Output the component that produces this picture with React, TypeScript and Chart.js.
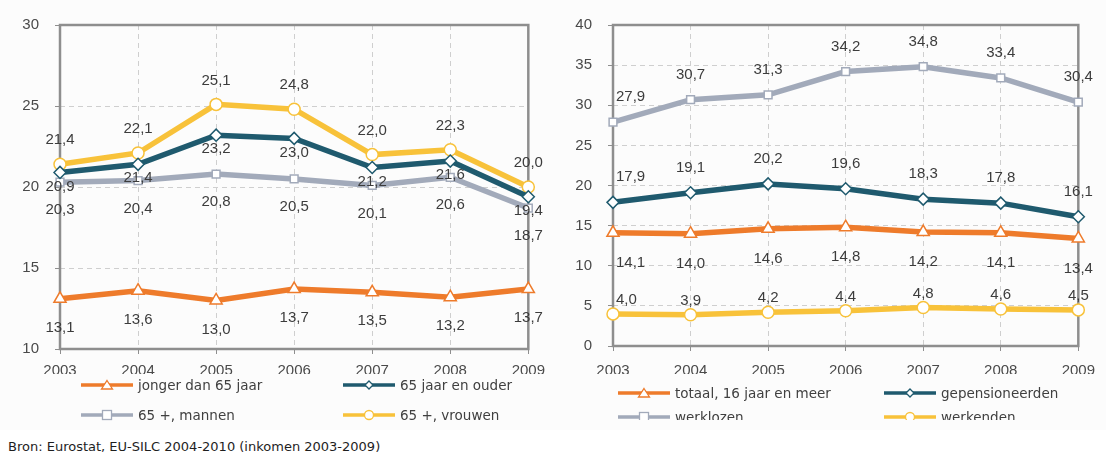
import { useEffect, useRef } from 'react';
import { Chart, registerables } from 'chart.js';

Chart.register(...registerables);

const years = ['2003', '2004', '2005', '2006', '2007', '2008', '2009'];

// links: naar leeftijd en geslacht
const jongerDan65 = [13.1, 13.6, 13.0, 13.7, 13.5, 13.2, 13.7];
const ouderDan65 = [20.9, 21.4, 23.2, 23.0, 21.2, 21.6, 19.4];
const mannen65 = [20.3, 20.4, 20.8, 20.5, 20.1, 20.6, 18.7];
const vrouwen65 = [21.4, 22.1, 25.1, 24.8, 22.0, 22.3, 20.0];
const leftTicks = [10, 15, 20, 25, 30];

// rechts: naar activiteitsstatus
const totaal16 = [14.1, 14.0, 14.6, 14.8, 14.2, 14.1, 13.4];
const gepensioneerden = [17.9, 19.1, 20.2, 19.6, 18.3, 17.8, 16.1];
const werklozen = [27.9, 30.7, 31.3, 34.2, 34.8, 33.4, 30.4];
const werkenden = [4.0, 3.9, 4.2, 4.4, 4.8, 4.6, 4.5];
const rightTicks = [0, 5, 10, 15, 20, 25, 30, 35, 40];

const ORANGE = '#EE7B2B';
const TEAL = '#1F5A6E';
const GREY = '#A2AABA';
const YELLOW = '#F8C23A';
const FRAME = '#8E8E8E';
const SANS = 'Liberation Sans, Arimo, Arial, sans-serif';

type Shape = 'triangle' | 'rectRot' | 'rect' | 'circle';

interface Series {
  label: string;
  data: number[];
  color: string;
  shape: Shape;
  offset: number; // label offset in px (negative = above)
}

const fmt = (v: number) => v.toFixed(1).replace('.', ',');

const frameAndLabels = {
  id: 'frameAndLabels',
  beforeDatasetsDraw(chart: any) {
    const { ctx, chartArea: a } = chart;
    ctx.save();
    ctx.strokeStyle = FRAME;
    ctx.lineWidth = 2.5;
    ctx.strokeRect(a.left, a.top, a.right - a.left, a.bottom - a.top);
    ctx.restore();
  },
  afterDatasetsDraw(chart: any, _args: any, opts: any) {
    const { ctx } = chart;
    ctx.save();
    ctx.font = '15px ' + SANS;
    ctx.fillStyle = '#3c3c3c';
    ctx.textBaseline = 'middle';
    chart.data.datasets.forEach((ds: any, i: number) => {
      const meta = chart.getDatasetMeta(i);
      meta.data.forEach((pt: any, j: number) => {
        let x = pt.x;
        ctx.textAlign = 'center';
        if (j === 0 && opts.firstLeft) {
          ctx.textAlign = 'left';
          x = pt.x + 3;
        }
        ctx.fillText(fmt(ds.data[j]), x, pt.y + ds.labelOffset);
      });
    });
    ctx.restore();
  },
};

function LineChart({ series, ticks, padTop, padRight, yWidth, xHeight, xPad, firstLeft }: {
  series: Series[]; ticks: number[]; padTop: number; padRight: number;
  yWidth: number; xHeight: number; xPad: number; firstLeft: boolean;
}) {
  const ref = useRef<HTMLCanvasElement>(null);

  useEffect(() => {
    if (!ref.current) return;
    const tickFont = { family: SANS, size: 15 };
    const chart = new Chart(ref.current, {
      type: 'line',
      data: {
        labels: years,
        datasets: series.map(s => ({
          label: s.label,
          data: s.data,
          borderColor: s.color,
          borderWidth: 5.5,
          pointStyle: s.shape,
          pointRadius: s.shape === 'rect' ? 5.5 : s.shape === 'triangle' ? 7 : 6,
          pointBackgroundColor: '#ffffff',
          pointBorderColor: s.color,
          pointBorderWidth: 1.5,
          tension: 0,
          clip: false,
          labelOffset: s.offset,
        })) as any,
      },
      options: {
        animation: false,
        responsive: false,
        layout: { padding: { top: padTop, right: padRight, left: 0, bottom: 0 } },
        plugins: {
          legend: { display: false },
          tooltip: { enabled: false },
          frameAndLabels: { firstLeft },
        } as any,
        scales: {
          x: {
            offset: false,
            grid: { color: '#cfcfcf', tickLength: 5, tickColor: FRAME, tickBorderDash: [], offset: false } as any,
            border: { display: false, dash: [5, 4] },
            ticks: { font: tickFont, color: '#4a4a4a', padding: xPad, maxRotation: 0 },
            afterFit: (s: any) => { s.height = xHeight; },
          },
          y: {
            min: ticks[0],
            max: ticks[ticks.length - 1],
            grid: { color: '#cfcfcf', tickLength: 5, tickColor: FRAME, tickBorderDash: [] } as any,
            border: { display: false, dash: [5, 4] },
            ticks: { stepSize: ticks[1] - ticks[0], font: tickFont, color: '#4a4a4a', padding: 16 },
            afterFit: (s: any) => { s.width = yWidth; },
          },
        },
      },
      plugins: [frameAndLabels],
    });
    return () => chart.destroy();
  }, []);

  return <canvas ref={ref} width={553} height={374} style={{ display: 'block' }} />;
}

function Marker({ shape, color }: { shape: Shape; color: string }) {
  const common = { fill: '#fff', stroke: color, strokeWidth: 1.3 };
  if (shape === 'triangle') return <polygon points="26,2.5 31.5,11 20.5,11" {...common} />;
  if (shape === 'rectRot') return <polygon points="26,3 30,7 26,11 22,7" {...common} />;
  if (shape === 'rect') return <rect x={21.5} y={2.5} width={9} height={9} {...common} />;
  return <circle cx={26} cy={7} r={4.5} {...common} />;
}

function Legend({ series, cols, rowTop, rowGap, height }: {
  series: Series[]; cols: number[]; rowTop: number; rowGap: number; height: number;
}) {
  return (
    <div style={{ position: 'absolute', left: 0, top: 0, width: 553, height, overflow: 'hidden' }}>
      {series.map((s, i) => (
        <div key={s.label} style={{
          position: 'absolute', left: cols[i % 2], top: rowTop + Math.floor(i / 2) * rowGap,
          display: 'flex', alignItems: 'center', whiteSpace: 'nowrap',
          font: '13.5px "DejaVu Sans", sans-serif', color: '#404040',
        }}>
          <svg width={54} height={14} style={{ marginRight: 3 }}>
            <line x1={0} y1={7} x2={52} y2={7} stroke={s.color} strokeWidth={3.5} />
            <Marker shape={s.shape} color={s.color} />
          </svg>
          {s.label}
        </div>
      ))}
    </div>
  );
}

const leftSeries: Series[] = [
  { label: 'jonger dan 65 jaar', data: jongerDan65, color: ORANGE, shape: 'triangle', offset: 29 },
  { label: '65 jaar en ouder', data: ouderDan65, color: TEAL, shape: 'rectRot', offset: 14 },
  { label: '65 +, mannen', data: mannen65, color: GREY, shape: 'rect', offset: 28 },
  { label: '65 +, vrouwen', data: vrouwen65, color: YELLOW, shape: 'circle', offset: -24 },
];

const rightSeries: Series[] = [
  { label: 'totaal, 16 jaar en meer', data: totaal16, color: ORANGE, shape: 'triangle', offset: 30 },
  { label: 'gepensioneerden', data: gepensioneerden, color: TEAL, shape: 'rectRot', offset: -25 },
  { label: 'werklozen', data: werklozen, color: GREY, shape: 'rect', offset: -25 },
  { label: 'werkenden', data: werkenden, color: YELLOW, shape: 'circle', offset: -14 },
];

export default function App() {
  return (
    <div style={{ position: 'fixed', left: 0, top: 0, width: 1106, height: 456, background: '#fff' }}>
      <div style={{ position: 'absolute', left: 0, top: 0, width: 553, height: 430, background: '#fcfcfc' }}>
        <LineChart series={leftSeries} ticks={leftTicks} padTop={16} padRight={23}
          yWidth={60} xHeight={25} xPad={8} firstLeft={false} />
        <Legend series={leftSeries} cols={[81, 343]} rowTop={377} rowGap={30} height={430} />
      </div>
      <div style={{ position: 'absolute', left: 553, top: 0, width: 553, height: 430, background: '#fcfcfc' }}>
        <LineChart series={rightSeries} ticks={rightTicks} padTop={15} padRight={18}
          yWidth={60} xHeight={28} xPad={11} firstLeft={true} />
        <Legend series={rightSeries} cols={[65, 331]} rowTop={385} rowGap={24} height={420} />
      </div>
      <div style={{
        position: 'absolute', left: 8, top: 439, font: '13px "DejaVu Sans", sans-serif', color: '#1e1e1e',
        whiteSpace: 'nowrap',
      }}>
        Bron: Eurostat, EU-SILC 2004-2010 (inkomen 2003-2009)
      </div>
    </div>
  );
}
